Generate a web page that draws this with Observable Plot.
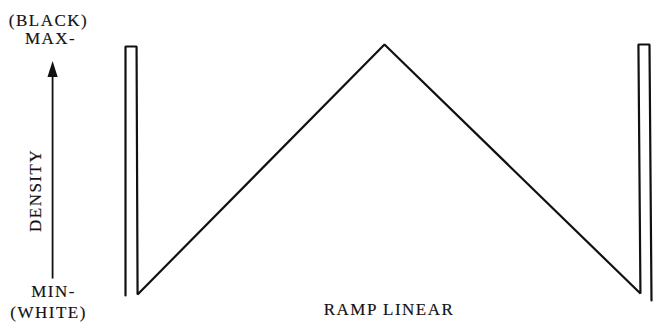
<!DOCTYPE html>
<html>
<head>
<meta charset="utf-8">
<script src="https://cdn.jsdelivr.net/npm/d3@7"></script>
<script src="https://cdn.jsdelivr.net/npm/@observablehq/plot@0.6"></script>
<style>
  html, body { margin: 0; padding: 0; background: #fff; }
  #chart svg { display: block; }
</style>
</head>
<body>
<div id="chart"></div>
<script>
// Waveform: left pulse, linear ramp up to peak and down, right pulse
const waveX = [-2.4, -2.4, -0.2, 0, 49.1, 100, 99.6, 101.8, 102.2];
const waveY = [0, 1, 1, 0.004, 1.008, 0.008, 1.008, 1.008, -0.02];

// Text labels
const labelText = ["(BLACK)", "MAX-", "MIN-", "(WHITE)", "RAMP LINEAR"];
const labelX = [-17.7, -17.3, -16.7, -17.7, 50];
const labelY = [1.104, 1.032, 0.016, -0.068, -0.056];
const axisTitle = "DENSITY";

// Arrow along density axis (min to max)
const arrowX = -16.9;
const arrowY0 = 0.068;
const arrowY1 = 0.944;

const wave = waveX.map((x, i) => ({x, y: waveY[i]}));
const labels = labelText.map((t, i) => ({t, x: labelX[i], y: labelY[i]}));

const narrowTriangle = {
  draw(context, size) {
    const h = Math.sqrt(size) * 1.0;
    const w = h * 0.32;
    context.moveTo(0, -h * 0.5);
    context.lineTo(w, h * 0.5);
    context.lineTo(-w, h * 0.5);
    context.closePath();
  }
};

const chart = Plot.plot({
  width: 656,
  height: 323,
  marginLeft: 125,
  marginRight: 5,
  marginTop: 46,
  marginBottom: 28,
  x: {domain: [-2.4, 102.2], axis: null},
  y: {domain: [0, 1], axis: null},
  style: {fontFamily: "'Liberation Serif', 'DejaVu Serif', serif", letterSpacing: "1.5px", background: "#fff"},
  marks: [
    Plot.line(wave, {x: "x", y: "y", stroke: "#111", strokeWidth: 2.2, strokeLinejoin: "miter", curve: "linear"}),
    Plot.link([{x: arrowX, y1: arrowY0, y2: arrowY1 - 0.03}], {x1: "x", x2: "x", y1: "y1", y2: "y2", stroke: "#111", strokeWidth: 1.8}),
    Plot.dot([{x: arrowX, y: arrowY1 - 0.034}], {x: "x", y: "y", symbol: narrowTriangle, r: 9, fill: "#111", stroke: "none"}),
    Plot.text(labels, {x: "x", y: "y", text: "t", fontSize: 17, fill: "#111", stroke: "#111", strokeWidth: 0.15}),
    Plot.text([axisTitle], {x: -20.3, y: 0.422, text: d => d, rotate: -90, fontSize: 17, fill: "#111", stroke: "#111", strokeWidth: 0.15})
  ]
});
document.getElementById("chart").appendChild(chart);
</script>
</body>
</html>
